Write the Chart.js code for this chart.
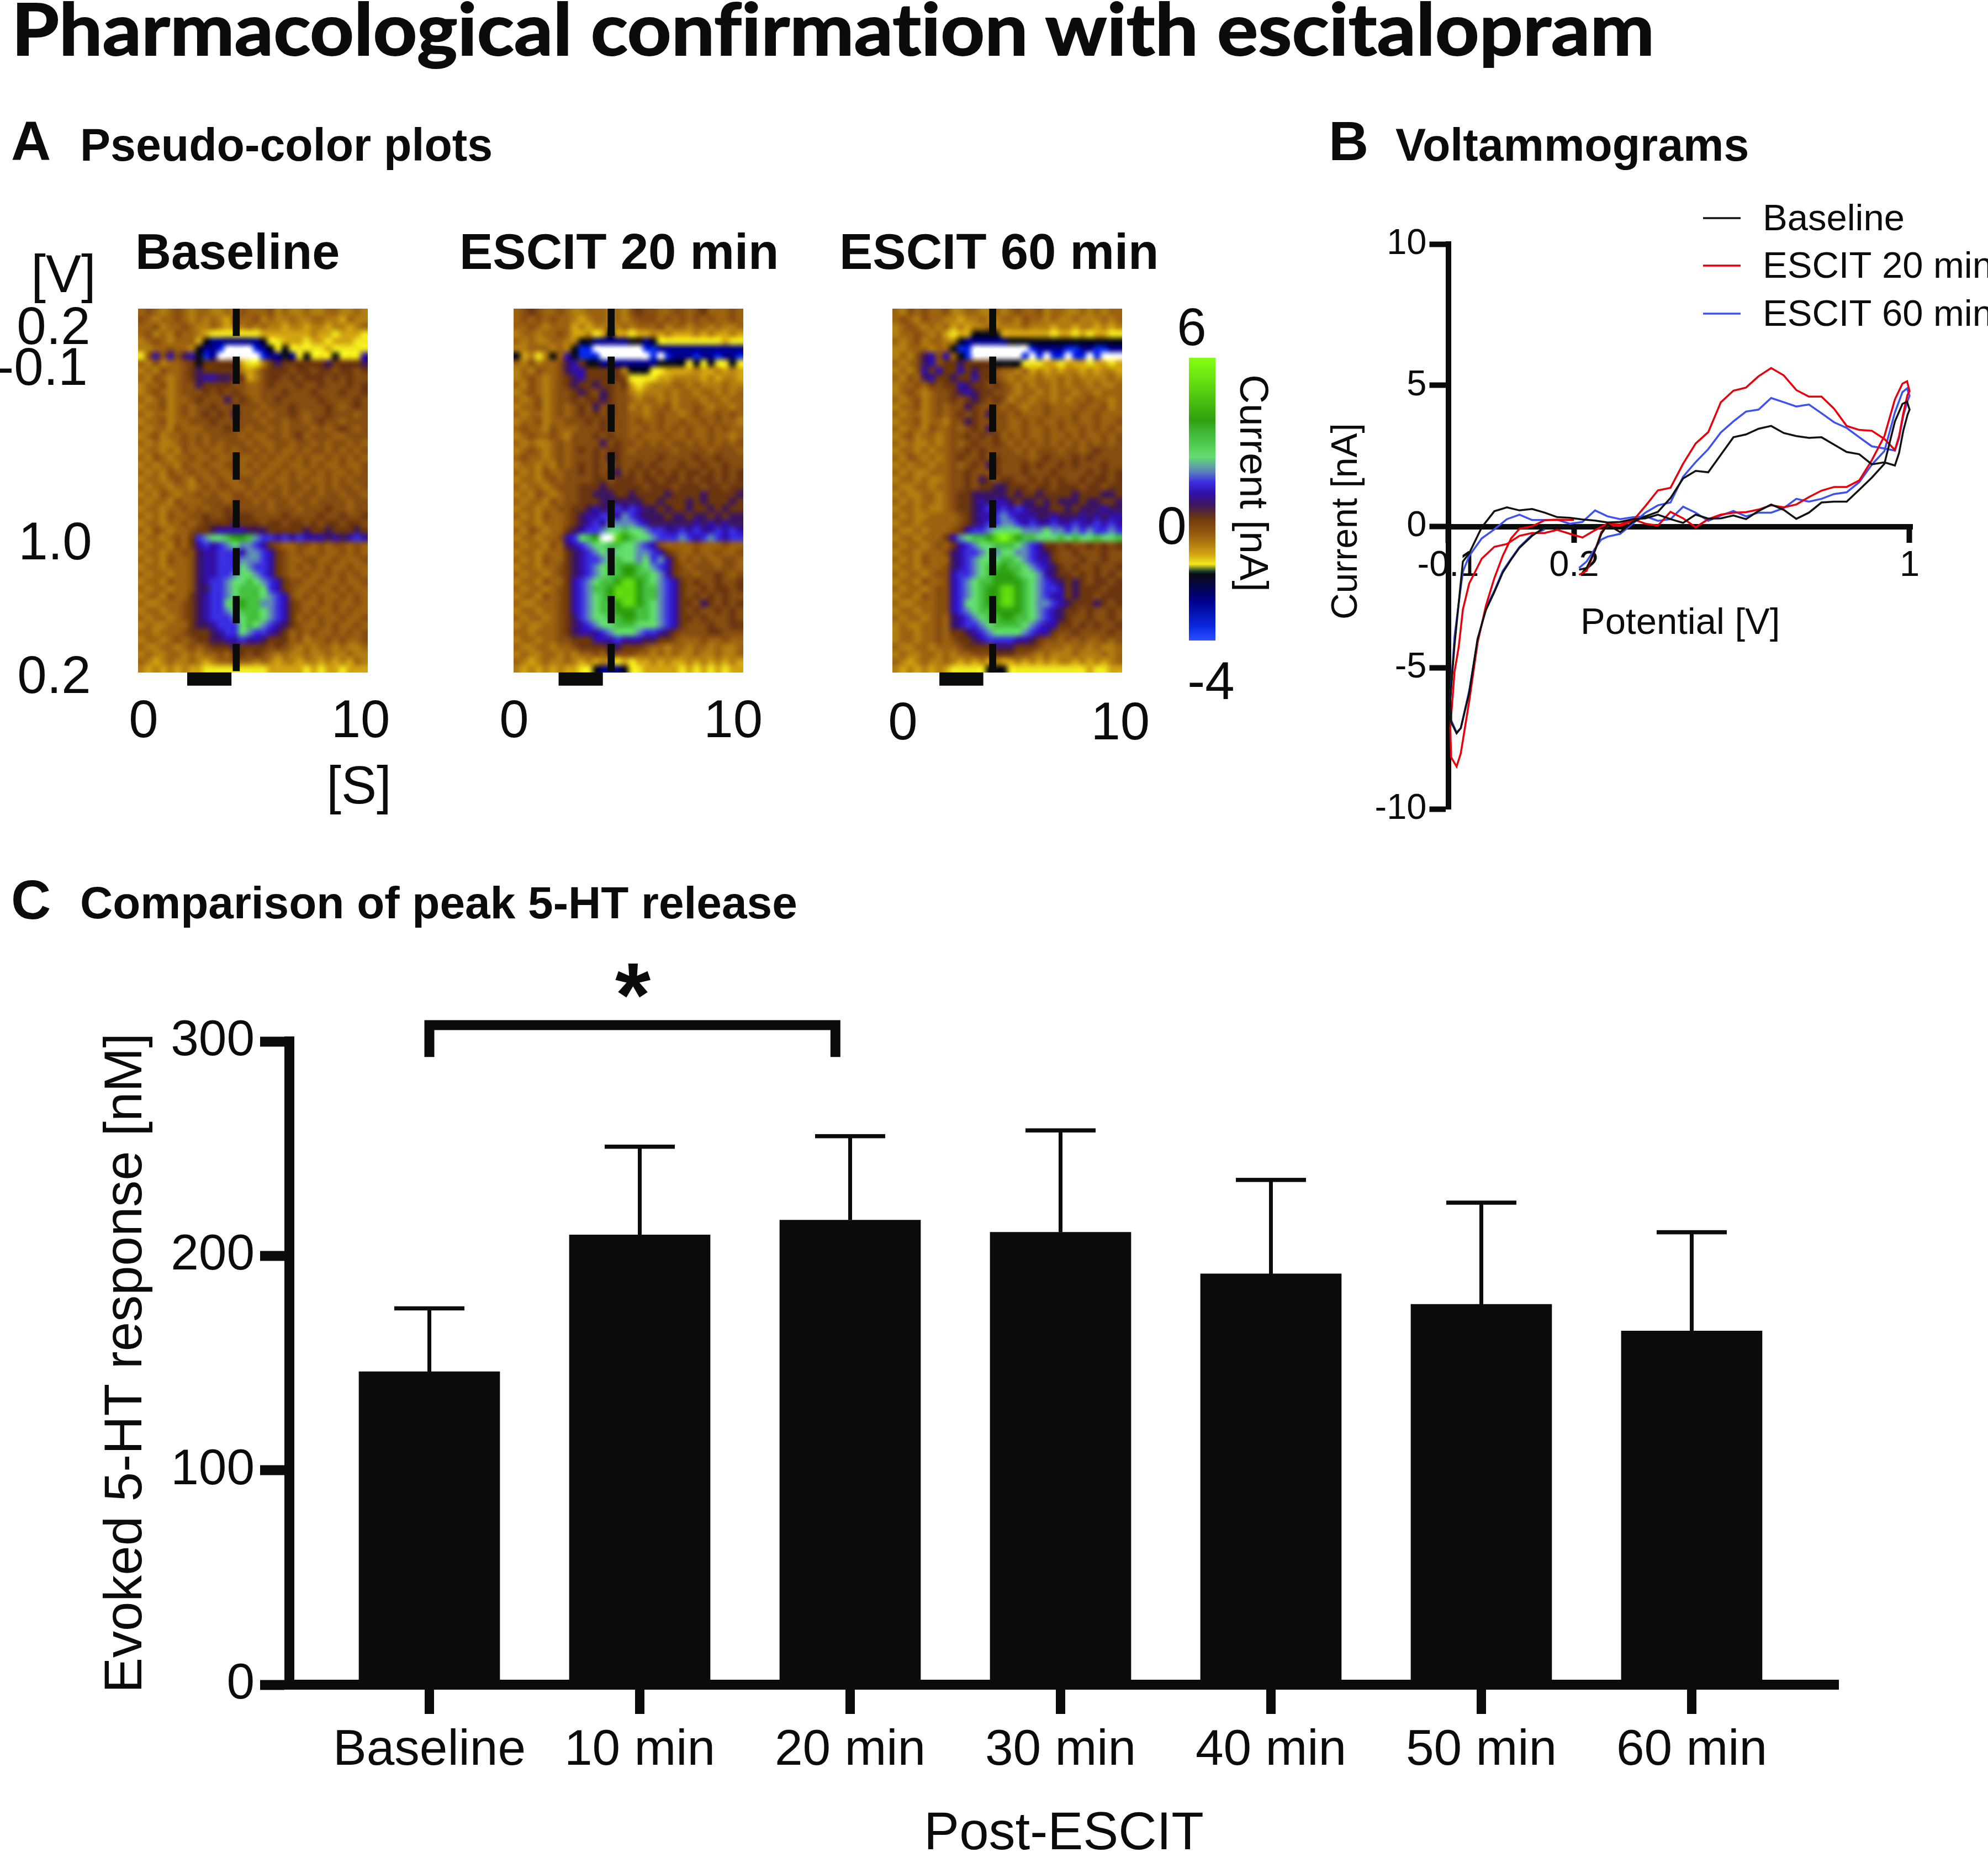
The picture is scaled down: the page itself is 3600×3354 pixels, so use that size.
<!DOCTYPE html>
<html>
<head>
<meta charset="utf-8">
<title>Pharmacological confirmation with escitalopram</title>
<script src="https://cdn.jsdelivr.net/npm/chart.js@4"></script>
<style>
  html, body { margin: 0; padding: 0; background: #fff; }
  #page { position: relative; width: 3600px; height: 3354px; overflow: hidden; background: #fff; color: #0a0c0b; font-family: "Liberation Sans", Arial, sans-serif; }
  canvas { position: absolute; }
  .t { position: absolute; line-height: 1; white-space: nowrap; transform: translate(-50%, -50%); }
  .l { position: absolute; line-height: 1; white-space: nowrap; transform: translateY(-50%); }
  .b { font-weight: 700; }
  #mainTitle { position: absolute; left: 21px; top: -15px; font: 700 130px/1 Lato, sans-serif; white-space: nowrap; transform-origin: 0 0; font-variant-ligatures: none; -webkit-text-stroke: 2px #0a0c0b; }
</style>
</head>
<body>
<div id="page">
  <div id="mainTitle">Pharmacological confirmation with escitalopram</div>

  <div class="l b" style="left:20px;top:255px;font-size:100px">A</div>
  <div class="l b" style="left:145px;top:262px;font-size:82.5px">Pseudo-color plots</div>
  <div class="l b" style="left:2406px;top:255px;font-size:100px">B</div>
  <div class="l b" style="left:2527px;top:262px;font-size:82.5px">Voltammograms</div>
  <div class="l b" style="left:20px;top:1629px;font-size:100px">C</div>
  <div class="l b" style="left:145px;top:1635px;font-size:82px">Comparison of peak 5-HT release</div>

  <div class="l b" style="left:245px;top:456px;font-size:90px">Baseline</div>
  <div class="l b" style="left:832px;top:456px;font-size:90.5px">ESCIT 20 min</div>
  <div class="l b" style="left:1520px;top:456px;font-size:90.5px">ESCIT 60 min</div>

  <div class="t" style="left:115px;top:496px;font-size:96px">[V]</div>
  <div class="t" style="left:97px;top:590px;font-size:96px">0.2</div>
  <div class="t" style="left:76px;top:664px;font-size:96px">-0.1</div>
  <div class="t" style="left:100px;top:980px;font-size:96px">1.0</div>
  <div class="t" style="left:98px;top:1222px;font-size:96px">0.2</div>
  <div class="t" style="left:650px;top:1422px;font-size:96px">[S]</div>

  <div class="t" style="left:2158px;top:592px;font-size:96px">6</div>
  <div class="t" style="left:2122px;top:952px;font-size:96px">0</div>
  <div class="t" style="left:2193px;top:1233px;font-size:96px">-4</div>
  <div class="t" style="left:2271px;top:875px;font-size:73px;transform:translate(-50%,-50%) rotate(90deg)">Current [nA]</div>

  <div class="t" style="left:2434px;top:944px;font-size:66px;transform:translate(-50%,-50%) rotate(-90deg)">Current [nA]</div>

  <div class="t b" style="left:1146px;top:1802px;font-size:165px">*</div>

  <canvas id="heatBaseline" width="616" height="800" style="left:150px;top:559px"></canvas>
  <canvas id="heat20" width="616" height="800" style="left:830px;top:559px"></canvas>
  <canvas id="heat60" width="616" height="800" style="left:1516px;top:559px"></canvas>
  <canvas id="colorBar" width="48" height="512" style="left:2153px;top:648px"></canvas>
  <canvas id="voltammogram" width="1220" height="1220" style="left:2380px;top:340px"></canvas>
  <canvas id="peakChart" width="3600" height="1654" style="left:0;top:1700px"></canvas>
</div>

<script>
"use strict";

/* Panel C: peak 5-HT, bars and upper error bars [nM] */
const peakCategories = ["Baseline", "10 min", "20 min", "30 min", "40 min", "50 min", "60 min"];
const peakValues = [146, 209.8, 216.7, 211, 191.6, 177.4, 165];
const peakErrorTops = [175.5, 250.9, 255.8, 258.5, 235.4, 224.8, 211];
const peakTicks = [0, 100, 200, 300];

/* Panel B: potential sweep shared by the three traces [V], current [nA] */
const potentials = [
  0.212, 0.23, 0.25, 0.265, 0.28, 0.31, 0.34, 0.37, 0.40,
  0.43, 0.46, 0.49, 0.52, 0.55, 0.58, 0.61, 0.64, 0.67, 0.70, 0.73, 0.76, 0.79, 0.82, 0.85, 0.88, 0.91, 0.94, 0.965, 0.975, 0.985, 0.995, 1.0,
  0.994, 0.983, 0.965,
  0.94, 0.91, 0.88, 0.85, 0.82, 0.79, 0.76, 0.73, 0.70, 0.67, 0.64, 0.61, 0.58, 0.55, 0.52, 0.49, 0.46, 0.43, 0.40,
  0.37, 0.34, 0.31, 0.28, 0.25, 0.22, 0.19, 0.16, 0.13, 0.10, 0.07, 0.04, 0.01, -0.02, -0.05,
  -0.065, -0.075, -0.085, -0.095, -0.093, -0.08, -0.07,
  -0.05, -0.03, -0.01, 0.01, 0.03, 0.05, 0.07, 0.10, 0.13, 0.16, 0.2
];
const currentBaseline = [
  -1.53, -1.47, -0.85, -0.26, 0.07, -0.2, 0.16, 0.36, 0.52,
  1.01, 1.70, 1.97, 1.92, 2.54, 3.16, 3.26, 3.46, 3.56, 3.31, 3.20, 3.14, 3.16, 2.90, 2.64, 2.56, 2.20, 2.27, 2.16, 2.61, 3.39, 3.95, 4.14,
  4.42, 4.34, 3.72,
  2.22, 1.73, 1.30, 0.88, 0.88, 0.85, 0.49, 0.27, 0.59, 0.78, 0.55, 0.26, 0.39, 0.29, 0.28, 0.42, 0.13, 0.26, 0.42,
  0.29, 0.26, 0.16, 0.14, 0.21, 0.25, 0.31, 0.33, 0.49, 0.62, 0.57, 0.68, 0.54, -0.03, -0.95,
  -1.24, -2.72, -4.2, -6.1, -6.92, -7.32, -7.14,
  -5.89, -3.98, -2.95, -2.32, -1.63, -1.17, -0.75, -0.33, -0.03, 0, 0
];
const currentEscit20 = [
  -1.71, -1.57, -0.85, -0.2, 0.03, 0.02, 0.2, 0.72, 1.28,
  1.37, 2.22, 2.94, 3.34, 4.40, 4.81, 4.92, 5.32, 5.61, 5.35, 4.83, 4.60, 4.60, 4.17, 3.56, 3.42, 3.39, 3.10, 2.71, 3.20, 4.01, 4.66, 4.79,
  5.14, 5.06, 4.50,
  3.20, 2.35, 1.63, 1.40, 1.40, 1.27, 1.04, 0.78, 0.68, 0.75, 0.60, 0.51, 0.49, 0.42, 0.26, -0.03, 0.29, 0.52, 0.03,
  0.10, 0.26, 0.07, 0.10, -0.13, -0.39, -0.26, -0.12, -0.23, -0.23, -0.33, -0.62, -0.72, -1.14, -2.02,
  -2.94, -4.27, -5.15, -7.14, -8.17, -8.5, -8.03,
  -6.19, -4.12, -2.8, -1.83, -1.04, -0.42, -0.08, 0.01, 0.22, 0.24, 0.23
];
const currentEscit60 = [
  -1.47, -1.24, -0.78, -0.46, -0.36, -0.26, 0.1, 0.49, 0.75,
  0.85, 1.76, 2.28, 2.74, 3.33, 3.72, 4.07, 4.14, 4.55, 4.40, 4.25, 4.32, 4.01, 3.69, 3.49, 3.16, 2.84, 2.76, 2.69, 3.13, 3.91, 4.44, 4.63,
  4.89, 4.76, 4.04,
  2.67, 2.19, 1.57, 1.21, 1.15, 0.98, 0.88, 0.98, 0.65, 0.49, 0.49, 0.36, 0.55, 0.39, 0.20, 0.49, 0.70, 0.26, 0.20,
  0.36, 0.33, 0.26, 0.36, 0.57, 0.16, 0.10, 0.24, 0.23, 0.23, 0.42, 0.26, -0.1, -0.42, -1.04,
  -1.6, -2.72, -3.9, -6.1, -6.85, -7.29, -7.14,
  -5.82, -4.05, -2.87, -2.28, -1.57, -1.14, -0.72, -0.29, -0.1, null, null
];
const traceLabels = ["Baseline", "ESCIT 20 min", "ESCIT 60 min"];
const traceColors = ["#111311", "#e8000c", "#3d50f0"];
const potentialTicks = [-0.1, 0.2, 1];
const currentTicks = [-10, -5, 0, 5, 10];

/* Colour scale of the pseudo-color plots [nA] */
const colorValues = [-4, -3.5, -2.6, -1.65, -1.55, -1.3, -0.95, -0.6, -0.3, 0, 0.35, 0.8, 1.2, 1.6, 2, 2.5, 3.2, 3.8, 5, 6];
const colorHex = ["#2c50ff", "#0a28e0", "#00008c", "#0a0a14", "#1a4030", "#f2e81e", "#d2a410", "#b27e10", "#9c6210", "#864c10", "#6a3610", "#3c1660", "#3210a8", "#3a2fe0", "#5c88b8", "#63dc70", "#46c040", "#2fa010", "#5fd810", "#84ff10"];
const levelChars = "WCBKYoabcdefghijklm";
const levelValues = [-5, -3.5, -2.6, -1.65, -1.3, -0.95, -0.6, -0.3, 0, 0.35, 0.8, 1.2, 1.6, 2, 2.5, 3.2, 3.8, 5, 6];

/* Pseudo-color cells, one letter per cell */
const gridBaseline = [
  "bcbabcba bbaabacb bbcabaab aabbaaba",
  "cbabbcba babaocbb cabaabaa bbaaobaa",
  "bbcabbcb aabaoaab abaaoaao aaoaaoab",
  "bcabacbb aoYYYYYY Yooooooo aooYoooY",
  "abcbabbb oKBBBBBB BKYYoooY ooYoooYY",
  "aabbcbba KBBCWWWW CBKYKYYY YYoYYYYY",
  "Ycfcfcef KCBWWWWW WCBBKBYK YYYKYYYf",
  "bacabbcd KdddddoY Yadedddd ddedddde",
  "abacbbcd edddddao acdddcdd cddcddcd",
  "bacbabcd effeeddo acddcdcd ddcdcdcc",
  "abbcabcc eddddccb bcdcccdc cdcccdcd",
  "abcbabcc cdcdcdcb bcccdccc dcccdccd",
  "babcabbc dcccecdc bccdcccc cdccccdc",
  "abbcabcb ccdccdcc cbcccdcc ccdcbcdc",
  "babbabcb cdcdcecc bcbccdcb ccdcccbc",
  "abbcabbc ccdccccc cbccbccb cdccbccc",
  "babbacbb bcccdccb ccbcbccc bcbcdcbc",
  "abcabbcb cbccccbc bbccbcdb cccbbccc",
  "babaabcb cbcbcccb cbbccbcc bcbccbcb",
  "abbabacb bcbbcbcc bcbcbbcb ccbcbcbc",
  "bacbabbc bbcbbcbb cbcbbcbc bbcbcbcb",
  "ababbacb bcbbccbc bcbbcbbc bcbbcbbc",
  "babacbbc bbcbbcbb cbbcbcbb cbcbbcbc",
  "abbabcba cbbcbbcc bbcbbcbc bbcbcbcc",
  "babbabba bcbccbbc bcbcbccb cbcbccbc",
  "abacbabb cbcbbccb cbccbcbc cbccbccb",
  "babbacbb bcccbccc bcbccbcc bccccbcc",
  "abbabbcb cbccdccc ccbcccbc ccdccbcc",
  "babacbbc cdccdddd ccccdccc cdccdccd",
  "abbabbcb cddddedd dcddcddc dcddcddc",
  "bacbabbc ddeffffe eeddddde ddeddded",
  "abbabcbd ghiijkkj hggfgfgf ffefefgf",
  "babbacbd fgfghihh gfdcbbcc bcbccbcb",
  "abbabbcc effgggfh hgfdcbcb bcbbcbcb",
  "babacbbc effggghh hgfdcbbc cbbcbbbc",
  "abbabbbc effgggih ggfdcbcb cbcbbcbb",
  "babbabbc effgghii hgfdcbbc bbcbcbcb",
  "abbacbbc efgghiij ihgfdccb bcbbcbbc",
  "babbabbc eegghijj jigfdcbb cbbcbcbb",
  "abbacbbd efgghijj jihgfcbc bcbbcbcb",
  "baabbbcd efggijkj jhhgfdcb bcbcbbcb",
  "abbabbcd efgghijj jihgfdcb cbbcbcbb",
  "babbabcd efggghij jihgfdbc bcbbcbbc",
  "abaabbbd eefgggij ihgfedcb bcbcbbcb",
  "bbabbbcd ddefggih ggfedbcb cbbcbcbc",
  "abbabcbc ddeeffgf fedddbca bbcbcbbc",
  "baabbabc bcdddedd ddcdcbab abbabaab",
  "abaabbab abbcbddc dcbabaab aabaabaa",
  "baoabaab aoabbcbb abaoaaoa aoaoaoba",
  "aoaoaoao oYYYYYYY YYoooooY oYooYooo"
];
const gridEscit20 = [
  "bcdcbbcb aabbbaba cdccbbcc bcdbbbcb",
  "bcbcbcbb aoabbaba bcccbcbc bcbcbbcb",
  "bbcbabbb oaoaabab abbbcabb abbabaab",
  "abbabbcb ooaYoKoo Yooaoaoo oaoaooao",
  "babaabba aKKBBBBB KKBKYYYY YYYYYoYY",
  "aabbbaba KCCWWWWW WWCCBBBB BBBBBBBB",
  "KoaYaKbf KCCCWWWW WWWCWCBB BCBBCBBC",
  "bacabbce fdKKBBBB BBBBKKKK YKYKYYKY",
  "abacbbce ffddddda KKKYYooo oaooaoao",
  "abcbabcd efdddddc YYYYooaa aaoaoaao",
  "bacbabcd eddeddcd oYoaaabb abaaabaa",
  "abcbabcc dedcedcc aoaaabab babbabab",
  "babcabcc dcddedcc babbabab bbabbabb",
  "abbcabcb cdcecdcc ababbcab bcbabbab",
  "babbabcb cdcdcdcc bbabcbba bcbbcbcb",
  "abbcabbc ccdcdccc bcbbcbbc bbcbcbba",
  "bcbbacbb bcccdccc bbcbcbcb cbbcbcbb",
  "abcbbcba cccdcdcc bcbbbcbb cbbcbbab",
  "babaabcb ccccecdc cbcbcbcc bcbcbcbc",
  "abcbabcb cdcdcddc bcccccbc cccbcccb",
  "bcbbabcb cccdcedc ccccdccc cdccdccc",
  "abbabacb cdcdccdc cdcdcccd ccdccdcc",
  "babacbbc cdcdcdec dcdcdcdc ddcdcdcd",
  "abbabcbc cccddcdd dcddcddc dcddcdcd",
  "babbabcc cdddeddd ddcdddcd ddcddcdd",
  "abacbabc cddeeedd eddddedd ddedddde",
  "babbacbc cdddeeee eeddeddd ededdded",
  "abbabbcc ddefefgf gfeededd eddededd",
  "babacbbc deffggfh gfeeedee deededee",
  "abbabbbc defgfhhh hgfeeeee efefefee",
  "bacbabbd efgghiij iihggffg fgffgfgf",
  "abbabbcf gijkWWlk jiihgggh gfghgfgg",
  "babbacbe fghiijji ihgfcbbb bcbbbcbb",
  "abbabbbd efghihii ihhgfdcb bcbbcbbc",
  "babacbbd efgghiji ihighfdb cbcbbccb",
  "abbabbcd efghijjk kjihgfdc bcccbccb",
  "babbabcd efghijjk kjjihfdc cbccdcbc",
  "abbacbbd fghijjkl lkjihgfd cdccdccd",
  "babbabcd fghjjkll lkjjhgfd ccdcddcd",
  "abbacbcd fghijkll lkjjhgfd cdcdcdcc",
  "baabbbcd fghijjkl lkjihgfd dcedcdcd",
  "abbabbcd fghijjkk kjjihgfd cdccdcdc",
  "babbabcd eghiijjk kjjihgfd dcdcccdc",
  "abaabbcd efghiijj jiiihgfd cccdccdd",
  "bbabbbcd efffghii ihggfedc cccddccc",
  "abbabbcc dddfffgf ffeeddcb bbcbbcbb",
  "baabbabb cddddeed ddcbbabb abbabaab",
  "abaabbab abbcbdcc cbbababa abaabaab",
  "baoabaab aoaoaoYo Yooaoaoo aoaoaoao",
  "aoaoaoao oYYKBBBK YYoooooY oYoYoYoo"
];
const gridEscit60 = [
  "bacbcbbc aabbaaba bcbbcabb aabababb",
  "bcbacbba aoaabaab bacbbaba abaaabab",
  "abcbabab oaoaabaa aabaaaoa aoaaoaoa",
  "abbcbabo YooKKKKo ooooooYo oYoYooYY",
  "babcabba aKBBBBBB KKKKKKKK KKKKKKKK",
  "aabbbabb KCCWWWWW WWWCBBBB CCBBCCBB",
  "abacefcf bKCWWWWW WWCWCWCC WCCWCWWW",
  "babcefcd deddddKK KKYYYooY oooYooYo",
  "abacfdfd dfdeddcb baboaoao aaoaoaao",
  "bacbefdd eddfddcb abaabaab abaaaaba",
  "abbcbdcd dfeddcdc bababbab abbabaab",
  "abcbabcc defeddcc babbabab babbabbb",
  "babcabcc dcdedcdc abbabbab abbcbbab",
  "abbcabcb ccedcccb cbabbcbb bbcbbcab",
  "babbabcb cdcdcecc bcbbbcbb bcbbcbbb",
  "abbcabba ccedcccc bbcbcbbc bcbbcbbc",
  "babbacbb cbcdcecc bbcbbcbc bbcbcbcb",
  "abcabbab ccdcdcdb cbcbbcbb cbcbbcbc",
  "babaabab cbcdccdc bcbcbcbc bcbcbcbc",
  "abbababb ccdcdccc cbcbcccb ccbcdccc",
  "bacbabab cdccdcdc cccbcdcc cdcdcccc",
  "ababbabb cbcdcedc ccdcdccd cdcccdcc",
  "babaabbb ccdcccdc ccdcccdc cccdcdcd",
  "abbabaab ccdcedcd dccdcdcd ccdcddcd",
  "baabbabb ccdcddee dddcddcd ddcddcdd",
  "abaabbab cddeeeee deddeddd dedddeed",
  "bababbab cddefeff edeedede eedeedde",
  "abbabaab cddefgfg fgfeeedd edeeefee",
  "babaabbb bcdeffgh gfffeefe eefefeff",
  "abbabbbb bcdefggh hgfgffgf fgffgfgf",
  "baababbb cdfgghii iihhhihh ghghgghg",
  "abbabbbd fhijjklm lkjjiiij ijiijiij",
  "babbabcb dfghiijj jihgfddc dccdcdcd",
  "abbabbbc efgghihi ihhgfedc cdcccdcc",
  "babacbbb efghiiij jihgffdc ccdccdcc",
  "abbabbbc efghijjk jjihgfed cdccdccd",
  "babbabcc fgghijkk kjiihfed dcdcdcdc",
  "abbacbbc fghijjkk kkjihgfe dedcddcd",
  "babbabcc fghijkkl lkjihggf dedddcdd",
  "abbacbcc fghijkkl lkjihgff deddcddd",
  "baabbbcc fgiijkkl lkjihhgf edddedcd",
  "abbabbcc fghijjkk kkjihgfe ddcdccdc",
  "babbabcb efghijjk kjjihgfe dccdccdc",
  "abaabbcb efgghijj jjihgffd dcdcdccd",
  "abbabbcb ddefghii iihgffdc cdccccdc",
  "abbabbcb cddefggg gffedccb cbcbbcbc",
  "baabbabb bcddddee edddcbbb abbabaab",
  "abaabbab abbcccdd dccbabaa abaaabab",
  "baoabaab aoaoaoao oaoaoaoa aoaoaoab",
  "aoaoaoao YYYYYKKK YYYYYYYY YYYoYYoo"
];
const secondsTicks = [0, 10];
const sweepSpan = 2.2;
/* time of the dashed line and of the stimulation bar [s], per plot */
const dashSeconds = [4.27, 4.43, 4.13];
const stimStart = [2.01, 2.03, 1.68];
const stimEnd = [4.05, 4.05, 3.7];

const INK = "#0a0c0b";

Chart.defaults.font.family = '"Liberation Sans", Arial, sans-serif';
Chart.defaults.color = INK;
Chart.defaults.animation = false;

/* Interpolate the current colour scale, out of range is white as in the plots */
function colorFor(value) {
  if (value < -4.02 || value > 6.02) return "#ffffff";
  for (let i = 1; i < colorValues.length; i++) {
    if (value <= colorValues[i]) {
      const f = (value - colorValues[i - 1]) / (colorValues[i] - colorValues[i - 1]);
      const a = parseInt(colorHex[i - 1].slice(1), 16);
      const b = parseInt(colorHex[i].slice(1), 16);
      const mix = s => Math.round(((a >> s) & 255) * (1 - f) + ((b >> s) & 255) * f);
      return `rgb(${mix(16)},${mix(8)},${mix(0)})`;
    }
  }
  return colorHex[colorHex.length - 1];
}

/* Paints one pixel per cell, then lays that over the plot area given by the scales.
   Smoothing on, the figure's plots are not blocky at this size. */
function heatCells(rows) {
  const cells = rows.map(r => r.replace(/ /g, ""));
  return {
    id: "heatCells",
    beforeDatasetsDraw(chart) {
      const { ctx, scales: { x, y } } = chart;
      const off = document.createElement("canvas");
      off.width = cells[0].length;
      off.height = cells.length;
      const offCtx = off.getContext("2d");
      cells.forEach((row, r) => {
        for (let c = 0; c < row.length; c++) {
          offCtx.fillStyle = colorFor(levelValues[levelChars.indexOf(row[c])]);
          offCtx.fillRect(c, r, 1, 1);
        }
      });
      const left = x.getPixelForDecimal(0);
      const top = y.getPixelForDecimal(0);
      ctx.save();
      ctx.imageSmoothingEnabled = true;
      ctx.imageSmoothingQuality = "high";
      ctx.drawImage(off, left, top, x.getPixelForDecimal(1) - left, y.getPixelForDecimal(1) - top);
      ctx.restore();
    }
  };
}

function heatChart(id, rows, i, xMin, xMax, tickPad) {
  return new Chart(document.getElementById(id), {
    type: "scatter",
    data: {
      datasets: [
        {
          data: [{ x: dashSeconds[i], y: 0 }, { x: dashSeconds[i], y: sweepSpan }],
          showLine: true, pointRadius: 0, borderColor: INK, borderWidth: 12.7, borderDash: [49.6, 37.1]
        },
        {
          data: [{ x: stimStart[i], y: sweepSpan * 1.018 }, { x: stimEnd[i], y: sweepSpan * 1.018 }],
          showLine: true, pointRadius: 0, borderColor: INK, borderWidth: 24, clip: false
        }
      ]
    },
    options: {
      responsive: false,
      devicePixelRatio: 1,
      layout: { autoPadding: false, padding: { left: 100, right: 100, top: 0, bottom: 0 } },
      plugins: { legend: { display: false }, tooltip: { enabled: false } },
      scales: {
        x: {
          type: "linear", min: xMin, max: xMax,
          grid: { display: false }, border: { display: false },
          afterBuildTicks: s => { s.ticks = secondsTicks.map(v => ({ value: v })); },
          afterFit: s => { s.height = 141; },
          ticks: { autoSkip: false, maxRotation: 0, padding: tickPad, color: INK, font: { size: 96, lineHeight: 1 } }
        },
        y: { type: "linear", min: 0, max: sweepSpan, reverse: true, display: false }
      }
    },
    plugins: [heatCells(rows)]
  });
}

heatChart("heatBaseline", gridBaseline, 0, -0.254, 10.33, 35);
heatChart("heat20", gridEscit20, 1, -0.025, 10.46, 35);
heatChart("heat60", gridEscit60, 2, -0.48, 10.08, 39);

/* Colour bar, one row per pixel from its own scale */
new Chart(document.getElementById("colorBar"), {
  type: "scatter",
  data: { datasets: [] },
  options: {
    responsive: false,
    devicePixelRatio: 1,
    layout: { autoPadding: false },
    plugins: { legend: { display: false }, tooltip: { enabled: false } },
    scales: {
      x: { display: false, min: 0, max: 1 },
      y: { display: false, min: -4, max: 6 }
    }
  },
  plugins: [{
    id: "colorRows",
    beforeDatasetsDraw(chart) {
      const { ctx, chartArea, scales: { y } } = chart;
      for (let p = Math.floor(chartArea.top); p < chartArea.bottom; p++) {
        ctx.fillStyle = colorFor(y.getValueForPixel(p + 0.5));
        ctx.fillRect(chartArea.left, p, chartArea.right - chartArea.left, 1);
      }
    }
  }]
});

/* Panel B legend, top right and running off the page as in the figure */
const traceLegend = {
  id: "traceLegend",
  afterDraw(chart) {
    const { ctx } = chart;
    const rowY = [55, 141, 228];
    ctx.save();
    ctx.font = '67px "Liberation Sans", Arial, sans-serif';
    ctx.textBaseline = "middle";
    chart.data.datasets.forEach((d, i) => {
      ctx.strokeStyle = d.borderColor;
      ctx.lineWidth = 3.5;
      ctx.beginPath();
      ctx.moveTo(704, rowY[i]);
      ctx.lineTo(772, rowY[i]);
      ctx.stroke();
      ctx.fillStyle = INK;
      ctx.fillText(d.label, 812, rowY[i] + 4);
    });
    ctx.restore();
  }
};

const traceSeries = [currentBaseline, currentEscit20, currentEscit60];
new Chart(document.getElementById("voltammogram"), {
  type: "scatter",
  data: {
    datasets: traceSeries.map((series, i) => ({
      label: traceLabels[i],
      data: series.map((v, k) => ({ x: potentials[k], y: v })),
      showLine: true, pointRadius: 0, borderColor: traceColors[i], borderWidth: 3.5, tension: 0, order: i
    }))
  },
  options: {
    responsive: false,
    devicePixelRatio: 1,
    layout: { autoPadding: false, padding: { left: 0, right: 137, top: 102, bottom: 95 } },
    plugins: { legend: { display: false }, tooltip: { enabled: false } },
    scales: {
      x: {
        type: "linear", min: -0.1, max: 1.0066, position: { y: 0 },
        border: { color: INK, width: 10 },
        grid: { drawOnChartArea: false, tickColor: INK, tickWidth: 10, tickLength: 24 },
        afterBuildTicks: s => { s.ticks = potentialTicks.map(v => ({ value: v })); },
        afterFit: s => { s.height = 210; },
        ticks: { autoSkip: false, maxRotation: 0, padding: 15, color: INK, callback: v => String(v), font: { size: 65, lineHeight: 1 } },
        title: { display: true, text: "Potential [V]", color: INK, padding: 0, font: { size: 67, lineHeight: 1 } }
      },
      y: {
        type: "linear", min: -10, max: 10,
        border: { color: INK, width: 10 },
        grid: { drawOnChartArea: false, tickColor: INK, tickWidth: 10, tickLength: 34 },
        afterBuildTicks: s => { s.ticks = currentTicks.map(v => ({ value: v })); },
        afterFit: s => { s.width = 242.5; },
        ticks: { padding: 5, color: INK, font: { size: 65, lineHeight: 1 } }
      }
    }
  },
  plugins: [traceLegend]
});

/* Upper error bars of panel C */
const errorBars = {
  id: "errorBars",
  afterDatasetsDraw(chart) {
    const { ctx, scales: { x, y } } = chart;
    ctx.fillStyle = INK;
    peakValues.forEach((v, i) => {
      const px = x.getPixelForValue(i);
      const top = y.getPixelForValue(peakErrorTops[i]);
      ctx.fillRect(px - 3.5, top, 7, y.getPixelForValue(v) - top);
      ctx.fillRect(px - 63.5, top - 3.75, 127, 7.5);
    });
  }
};

new Chart(document.getElementById("peakChart"), {
  type: "bar",
  data: {
    datasets: [
      {
        type: "line",
        data: [{ x: 0, y: 292.7 }, { x: 0, y: 307.6 }, { x: 1.93, y: 307.6 }, { x: 1.93, y: 292.7 }],
        borderColor: INK, borderWidth: 18, pointRadius: 0, clip: false, tension: 0
      },
      {
        data: peakValues.map((v, i) => ({ x: i, y: v })),
        backgroundColor: INK, barThickness: 255
      }
    ]
  },
  options: {
    responsive: false,
    devicePixelRatio: 1,
    layout: { autoPadding: false, padding: { left: 182, right: 271, top: 186, bottom: 303 } },
    plugins: { legend: { display: false }, tooltip: { enabled: false } },
    scales: {
      x: {
        type: "linear", min: -0.6654, max: 6.697, position: { y: 0 }, offset: false,
        border: { color: INK, width: 18 },
        grid: { offset: false, drawOnChartArea: false, tickColor: INK, tickWidth: 17, tickLength: 44 },
        afterBuildTicks: s => { s.ticks = peakCategories.map((c, i) => ({ value: i })); },
        afterFit: s => { s.height = 320; },
        ticks: { autoSkip: false, maxRotation: 0, padding: 30, color: INK, callback: v => peakCategories[v], font: { size: 91, lineHeight: 1 } },
        title: { display: true, text: "Post-ESCIT", color: INK, padding: 0, font: { size: 96, lineHeight: 1 } }
      },
      y: {
        type: "linear", min: 0, max: 300,
        border: { color: INK, width: 18 },
        grid: { drawOnChartArea: false, tickColor: INK, tickWidth: 18, tickLength: 53 },
        afterBuildTicks: s => { s.ticks = peakTicks.map(v => ({ value: v })); },
        afterFit: s => { s.width = 342; },
        ticks: { padding: 10, color: INK, font: { size: 91, lineHeight: 1 } },
        title: { display: true, text: "Evoked 5-HT response [nM]", color: INK, padding: 0, font: { size: 96, lineHeight: 1 } }
      }
    }
  },
  plugins: [errorBars]
});

/* Original title face is narrower, fit the title to its width in the figure */
const mainTitle = document.getElementById("mainTitle");
mainTitle.style.transform = `scaleX(${2975 / mainTitle.getBoundingClientRect().width})`;
</script>
</body>
</html>
